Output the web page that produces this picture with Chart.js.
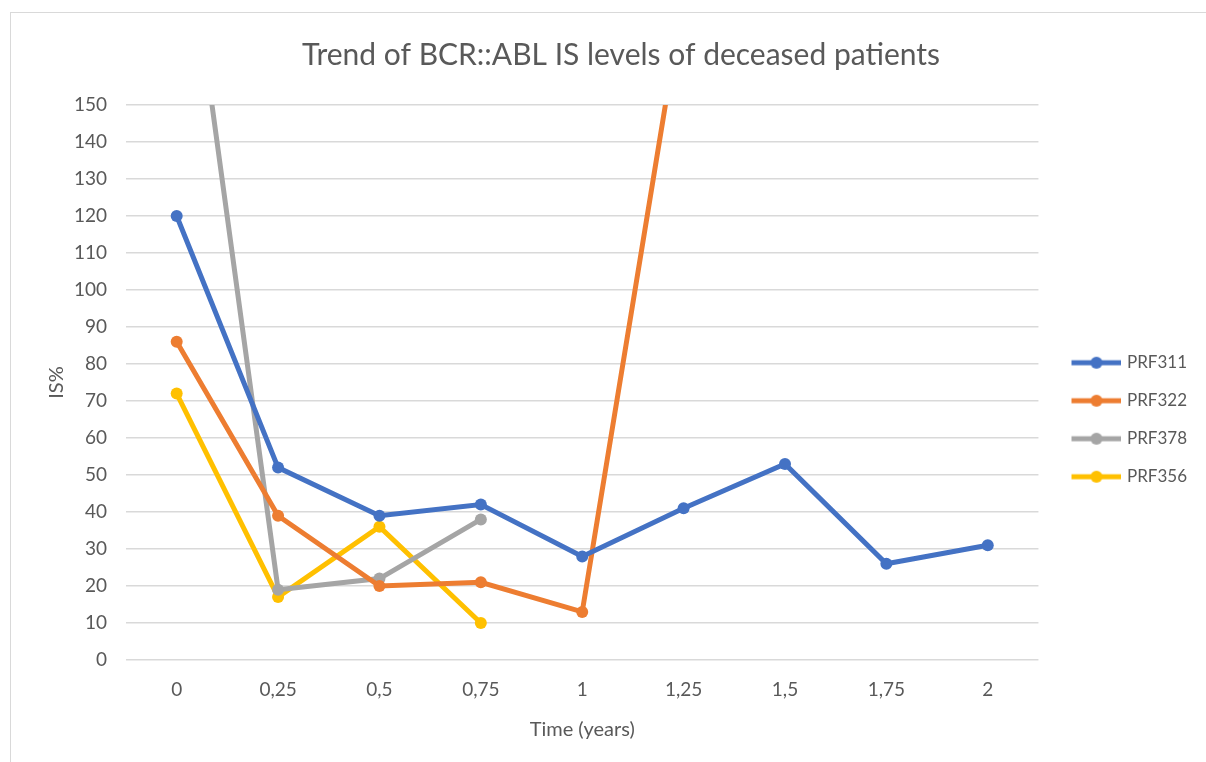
<!DOCTYPE html>
<html>
<head>
<meta charset="utf-8">
<script src="https://cdn.jsdelivr.net/npm/chart.js@4.4.1/dist/chart.umd.min.js"></script>
<style>
  html, body { margin: 0; padding: 0; background: #fff; }
  #frame { position: absolute; left: 10px; top: 12px; width: 1220px; height: 780px;
           border: 1.5px solid #d9d9d9; box-sizing: border-box; }
  #wrap { position: absolute; left: 0; top: 0; width: 1206px; height: 762px; }
</style>
</head>
<body>
<div id="frame"></div>
<div id="wrap"><canvas id="chart" width="1206" height="762"></canvas></div>
<script>
// categories (time in years) and series values
const timeLabels = ['0', '0,25', '0,5', '0,75', '1', '1,25', '1,5', '1,75', '2'];
const prf311 = [120, 52, 39, 42, 28, 41, 53, 26, 31];
const prf322 = [86, 39, 20, 21, 13, 180];
const prf378 = [220, 19, 22, 38];
const prf356 = [72, 17, 36, 10];

const seriesNames = ['PRF311', 'PRF322', 'PRF378', 'PRF356'];
const seriesColors = ['#4472c4', '#ed7d31', '#a5a5a5', '#ffc000'];

const FONT = 'Lato, "Open Sans", sans-serif';
const TEXT = '#595959';
const KEY_W = 59; // legend box width, a bit wider than the key so the plot ends earlier

// little line+dot picture for the legend, like the Excel legend key
function legendKey(color) {
    const c = document.createElement('canvas');
    c.width = KEY_W + 6; c.height = 14;
    const g = c.getContext('2d');
    const x0 = c.width - 50;
    g.strokeStyle = color;
    g.lineWidth = 5;
    g.beginPath(); g.moveTo(x0, 7); g.lineTo(x0 + 50, 7); g.stroke();
    g.fillStyle = color;
    g.beginPath(); g.arc(x0 + 25, 7, 6, 0, Math.PI * 2); g.fill();
    return c;
}

const allData = [prf311, prf322, prf378, prf356];
const datasets = seriesNames.map((name, i) => ({
    label: name,
    data: allData[i],
    borderColor: seriesColors[i],
    backgroundColor: seriesColors[i],
    borderWidth: 5,
    pointRadius: 6,
    pointHoverRadius: 6,
    pointBorderWidth: 0,
    tension: 0,
    clip: 0
}));

const ctx = document.getElementById('chart').getContext('2d');
new Chart(ctx, {
    type: 'line',
    data: { labels: timeLabels, datasets: datasets },
    options: {
        responsive: false,
        animation: false,
        maintainAspectRatio: false,
        layout: { padding: { left: 45, right: 9, top: 37, bottom: 20 } },
        plugins: {
            tooltip: { enabled: false },
            title: {
                display: true,
                text: 'Trend of BCR::ABL IS levels of deceased patients',
                color: TEXT,
                font: { family: FONT, size: 30, weight: 'normal' },
                padding: { top: 0, bottom: 32 }
            },
            legend: {
                position: 'right',
                title: { display: true, text: '', padding: 23 },
                labels: {
                    usePointStyle: true,
                    pointStyleWidth: KEY_W,
                    boxHeight: 14,
                    padding: 21,
                    color: TEXT,
                    font: { family: FONT, size: 17 },
                    generateLabels(chart) {
                        return chart.data.datasets.map((ds, i) => ({
                            text: ds.label,
                            pointStyle: legendKey(ds.borderColor),
                            fillStyle: ds.borderColor,
                            strokeStyle: ds.borderColor,
                            lineWidth: 0,
                            fontColor: TEXT,
                            datasetIndex: i,
                            hidden: false
                        }));
                    }
                }
            }
        },
        scales: {
            x: {
                offset: true,
                afterFit: (scale) => { scale.height = 82; },
                grid: { display: false, drawTicks: false },
                border: { display: false },
                ticks: { color: TEXT, font: { family: FONT, size: 19 }, padding: 18 },
                title: {
                    display: true, text: 'Time (years)', color: TEXT,
                    font: { family: FONT, size: 20 }, padding: { top: 0, bottom: 0 }
                }
            },
            y: {
                min: 0, max: 150,
                afterFit: (scale) => { scale.width = 81; },
                ticks: { stepSize: 10, color: TEXT, font: { family: FONT, size: 19 }, padding: 19 },
                grid: { color: '#d9d9d9', lineWidth: 1.5, drawTicks: false },
                border: { display: false },
                title: {
                    display: true, text: 'IS%', color: TEXT,
                    font: { family: FONT, size: 20 }, padding: { top: 0, bottom: 4 }
                }
            }
        }
    }
});
</script>
</body>
</html>
